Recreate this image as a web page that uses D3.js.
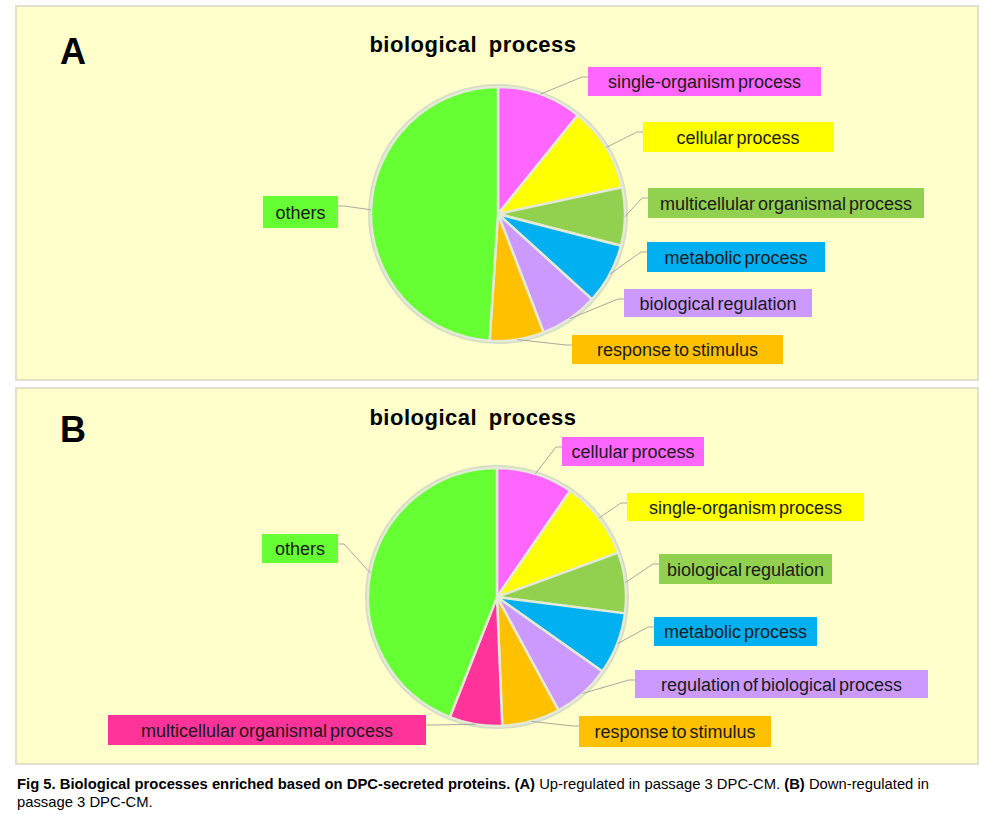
<!DOCTYPE html>
<html>
<head>
<meta charset="utf-8">
<script src="https://cdn.jsdelivr.net/npm/d3@7/dist/d3.min.js"></script>
<style>
  html, body { margin: 0; padding: 0; background: #ffffff; }
  svg { display: block; }
</style>
</head>
<body>
<svg id="chart" width="998" height="814"></svg>
<script>
// ---- data ----
const titleText = "biological process";

const categoriesA = ["single-organism process", "cellular process", "multicellular organismal process",
  "metabolic process", "biological regulation", "response to stimulus", "others"];
const valuesA = [10.8, 10.8, 7.4, 7.7, 7.4, 6.9, 48.9];
const colorsA = ["#FF66FF", "#FFFF00", "#92D050", "#00B0F0", "#CC99FF", "#FFC000", "#66FF33"];

const categoriesB = ["cellular process", "single-organism process", "biological regulation", "metabolic process",
  "regulation of biological process", "response to stimulus", "multicellular organismal process", "others"];
const valuesB = [9.6, 9.8, 7.6, 7.75, 7.3, 7.25, 6.6, 44.0];
const colorsB = ["#FF66FF", "#FFFF00", "#92D050", "#00B0F0", "#CC99FF", "#FFC000", "#FF3399", "#66FF33"];

// ---- layout (label boxes: x, y, w, h) ----
const boxesA = [
  [588, 67, 233, 29], [643, 122, 190, 30], [648, 188, 276, 30], [647, 242, 178, 30],
  [624, 289, 188, 28], [572, 335, 211, 29], [263, 196, 75, 32]
];
const boxesB = [
  [562, 437, 142, 29], [627, 493, 237, 28], [659, 554, 173, 30], [654, 617, 163, 29],
  [635, 670, 293, 28], [579, 716, 192, 31], [108, 715, 318, 30], [262, 534, 76, 29]
];

const svg = d3.select("#chart");

function panel(opts) {
  const g = svg.append("g");
  g.append("rect")
    .attr("x", opts.px).attr("y", opts.py).attr("width", opts.pw).attr("height", opts.ph)
    .attr("fill", "#FFFFCC").attr("stroke", "#E2E2CC").attr("stroke-width", 2);

  g.append("text").attr("x", 60).attr("y", opts.letterY)
    .attr("font-family", "Liberation Sans, Arial, sans-serif").attr("font-weight", "bold")
    .attr("font-size", 36).attr("fill", "#000").text(opts.letter);

  g.append("text").attr("x", 473).attr("y", opts.titleY)
    .attr("text-anchor", "middle")
    .attr("font-family", "Liberation Sans, Arial, sans-serif").attr("font-weight", "bold")
    .attr("font-size", 22).attr("letter-spacing", 0.5).attr("word-spacing", 5)
    .attr("fill", "#000").text(titleText);

  const pie = d3.pie().sort(null).value(d => d.v);
  const data = opts.cats.map((c, i) => ({ c: c, v: opts.vals[i], col: opts.cols[i], box: opts.boxes[i] }));
  const arcs = pie(data);
  const arc = d3.arc().innerRadius(0).outerRadius(opts.r);
  const pg = g.append("g").attr("transform", `translate(${opts.cx},${opts.cy})`);

  // leader lines
  const lines = g.append("g");
  arcs.forEach(a => {
    const mid = (a.startAngle + a.endAngle) / 2;
    const sx = opts.cx + opts.r * Math.sin(mid);
    const sy = opts.cy - opts.r * Math.cos(mid);
    const b = a.data.box;
    const right = sx > b[0] + b[2];
    const ex = right ? b[0] + b[2] : b[0];
    const ey = b[1] + 10;
    const kx = right ? ex + 6 : ex - 6;
    lines.append("path")
      .attr("d", `M${sx},${sy}L${kx},${ey}L${ex},${ey}`)
      .attr("fill", "none").attr("stroke", "#A8A8A0").attr("stroke-width", 1);
  });

  pg.append("circle").attr("r", opts.r).attr("fill", "none")
    .attr("stroke", "#D6DDC4").attr("stroke-width", 6);
  pg.selectAll("path.slice").data(arcs).enter().append("path")
    .attr("class", "slice")
    .attr("d", arc)
    .attr("fill", d => d.data.col)
    .attr("stroke", "#E4EAD6").attr("stroke-width", 2.5).attr("stroke-linejoin", "round");

  // label boxes
  const lg = g.append("g");
  arcs.forEach(a => {
    const b = a.data.box;
    lg.append("rect").attr("x", b[0]).attr("y", b[1]).attr("width", b[2]).attr("height", b[3])
      .attr("fill", a.data.col);
    lg.append("text").attr("x", b[0] + b[2] / 2).attr("y", b[1] + b[3] / 2 + 6.5)
      .attr("text-anchor", "middle")
      .attr("font-family", "Liberation Sans, Arial, sans-serif")
      .attr("font-size", 18).attr("word-spacing", -2)
      .attr("fill", "#1a1a1a")
      .text(a.data.c);
  });
}

panel({ px: 16, py: 6, pw: 962, ph: 374, letter: "A", letterY: 64, titleY: 52, cx: 498, cy: 214, r: 127,
  cats: categoriesA, vals: valuesA, cols: colorsA, boxes: boxesA });
panel({ px: 16, py: 388, pw: 962, ph: 376, letter: "B", letterY: 442, titleY: 425, cx: 497, cy: 597, r: 129,
  cats: categoriesB, vals: valuesB, cols: colorsB, boxes: boxesB });

// caption
const capFont = "Liberation Sans, Arial, sans-serif";
const cap = svg.append("text").attr("x", 17).attr("y", 789)
  .attr("font-family", capFont).attr("font-size", 14.8).attr("fill", "#000");
cap.append("tspan").attr("font-weight", "bold").text("Fig 5. Biological processes enriched based on DPC-secreted proteins. (A)");
cap.append("tspan").text(" Up-regulated in passage 3 DPC-CM. ");
cap.append("tspan").attr("font-weight", "bold").text("(B)");
cap.append("tspan").text(" Down-regulated in");
svg.append("text").attr("x", 17).attr("y", 807)
  .attr("font-family", capFont).attr("font-size", 14.8).attr("fill", "#000").text("passage 3 DPC-CM.");
</script>
</body>
</html>
